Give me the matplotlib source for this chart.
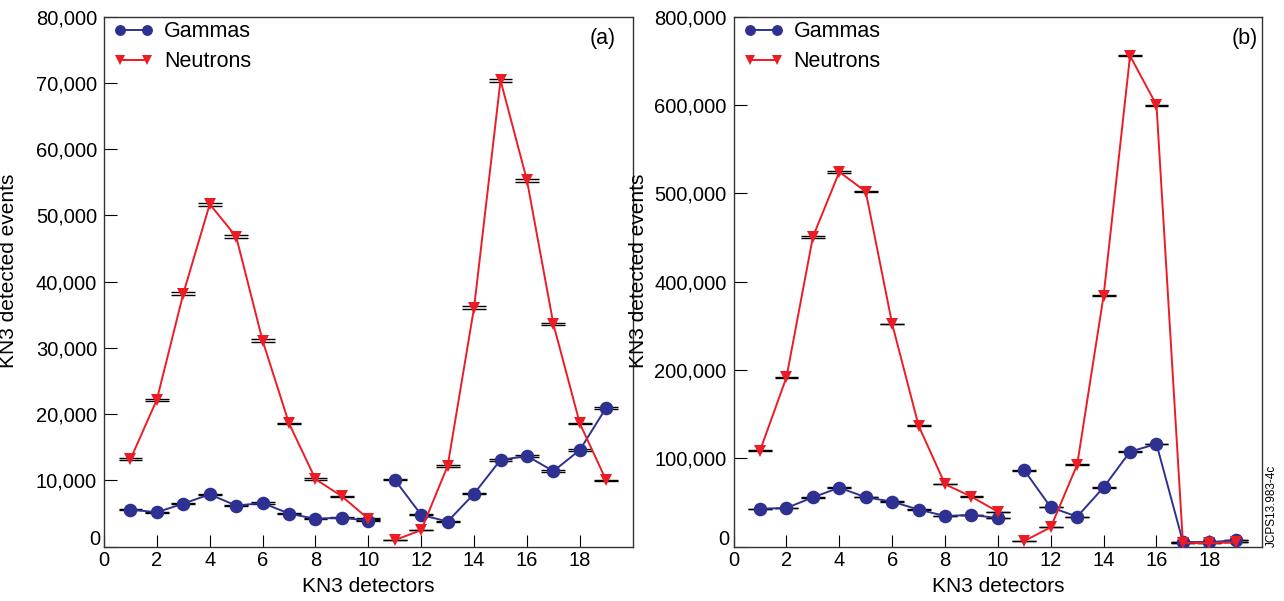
import numpy as np
import matplotlib
matplotlib.use("Agg")
import matplotlib.pyplot as plt
from matplotlib.ticker import FuncFormatter

plt.rcParams['font.family'] = ['Liberation Sans', 'DejaVu Sans']

# ---------------- data ----------------
detectors = list(range(1, 20))

gammas_a = [5600, 5200, 6500, 7900, 6200, 6600, 5000, 4200, 4400, 3900,
            10100, 4800, 3800, 8000, 13100, 13700, 11400, 14600, 21000]
neutrons_a = [13200, 22200, 38200, 51700, 46800, 31100, 18600, 10200, 7600, 4200,
              1000, 2500, 12200, 36100, 70400, 55300, 33600, 18600, 10000]

gammas_b = [43000, 43800, 55900, 66800, 56000, 51000, 42000, 34800, 35900, 32500,
            86500, 44600, 34000, 67200, 107600, 116300, 5500, 5000, 7500]
neutrons_b = [108700, 191800, 450700, 524300, 502000, 304400, 137000, 70700, 56600, 39600,
              6500, 22000, 92900, 368600, 711400, 600000, 4500, 4000, 5000]

yticks_a = [0, 10000, 20000, 30000, 40000, 50000, 60000, 70000, 80000]
yticks_b = [0, 100000, 200000, 400000, 500000, 600000, 800000]
xticks = [0, 2, 4, 6, 8, 10, 12, 14, 16, 18]

series_names = ["Gammas", "Neutrons"]
panel_tags = ["(a)", "(b)"]
xlabel = "KN3 detectors"
ylabel = "KN3 detected events"
stamp = "JCPS13.983-4c"

# ---------------- style ----------------
BLUE = "#2E3192"
RED = "#ED1C24"
SPINE = "#333333"
W, H = 1284, 601

fig = plt.figure(figsize=(W / 100, H / 100), dpi=100)
ax_a = fig.add_axes([104 / W, 54.3 / H, 528.7 / W, 530 / H])
ax_b = fig.add_axes([733.6 / W, 54.3 / H, 528.6 / W, 530 / H])

# piecewise scale for panel (b), following its tick labels
pos_b = np.arange(len(yticks_b), dtype=float)
def fwd(v):
    return np.interp(v, yticks_b, pos_b)
def inv(p):
    return np.interp(p, pos_b, yticks_b)
ax_b.set_yscale('function', functions=(fwd, inv))

fmt = FuncFormatter(lambda v, p: "" if v == 0 else f"{v:,.0f}")

def draw(ax, g, n, yticks, ymax, tag, tagx):
    x = np.array(detectors, dtype=float)
    g = np.array(g, dtype=float)
    n = np.array(n, dtype=float)
    # error bars (horizontal bars at value +/- sqrt(value))
    for vals in (g, n):
        err = np.sqrt(vals)
        for s in (-1, 1):
            ax.hlines(vals + s * err, x - 0.45, x + 0.45, colors='black',
                      linewidth=1.0, zorder=2)
    handles = []
    for vals, col, mk, ms in ((g, BLUE, 'o', 9.8), (n, RED, 'v', 9.0)):
        h = None
        for sl in (slice(0, 10), slice(10, 19)):
            ln, = ax.plot(x[sl], vals[sl], color=col, marker=mk, markersize=ms,
                          linewidth=1.4, markeredgewidth=0, zorder=3)
            if h is None:
                h = ln
        handles.append(h)
    ax.set_xlim(0, 20)
    ax.set_ylim(0, ymax)
    ax.set_xticks(xticks)
    ax.set_yticks(yticks)
    ax.yaxis.set_major_formatter(fmt)
    ax.minorticks_off()
    ax.tick_params(axis='both', direction='in', length=9, width=0.8,
                   labelsize=14.5, top=False, right=False, colors='black')
    ax.tick_params(axis='y', pad=5)
    ax.tick_params(axis='x', pad=3)
    for sp in ax.spines.values():
        sp.set_color(SPINE)
        sp.set_linewidth(1.0)
    ax.annotate("0", xy=(0, 0), xycoords=('axes fraction', 'data'),
                xytext=(-4, 7), textcoords='offset pixels',
                ha='right', va='center', fontsize=14.5)
    ax.set_xlabel(xlabel, fontsize=15, labelpad=5)
    ax.set_ylabel(ylabel, fontsize=15)
    ax.yaxis.set_label_coords(-0.162, 0.52)
    ax.legend(handles=handles, labels=series_names, numpoints=2, markerscale=0.8,
              frameon=False, loc='upper left', bbox_to_anchor=(0.0185, 0.991),
              borderaxespad=0, borderpad=0, handlelength=1.84,
              handletextpad=0.49, labelspacing=0.40, fontsize=15.5)
    ax.text(tagx, 0.958, tag, transform=ax.transAxes, ha='right', va='center',
            fontsize=15.5)

draw(ax_a, gammas_a, neutrons_a, yticks_a, 80000, panel_tags[0], 0.968)
draw(ax_b, gammas_b, neutrons_b, yticks_b, 800000, panel_tags[1], 0.992)

fig.text(1271.5 / W, 54.3 / H, stamp, rotation=90, ha='center', va='bottom',
         fontsize=8.5)

fig.savefig("out.png", dpi=100)
